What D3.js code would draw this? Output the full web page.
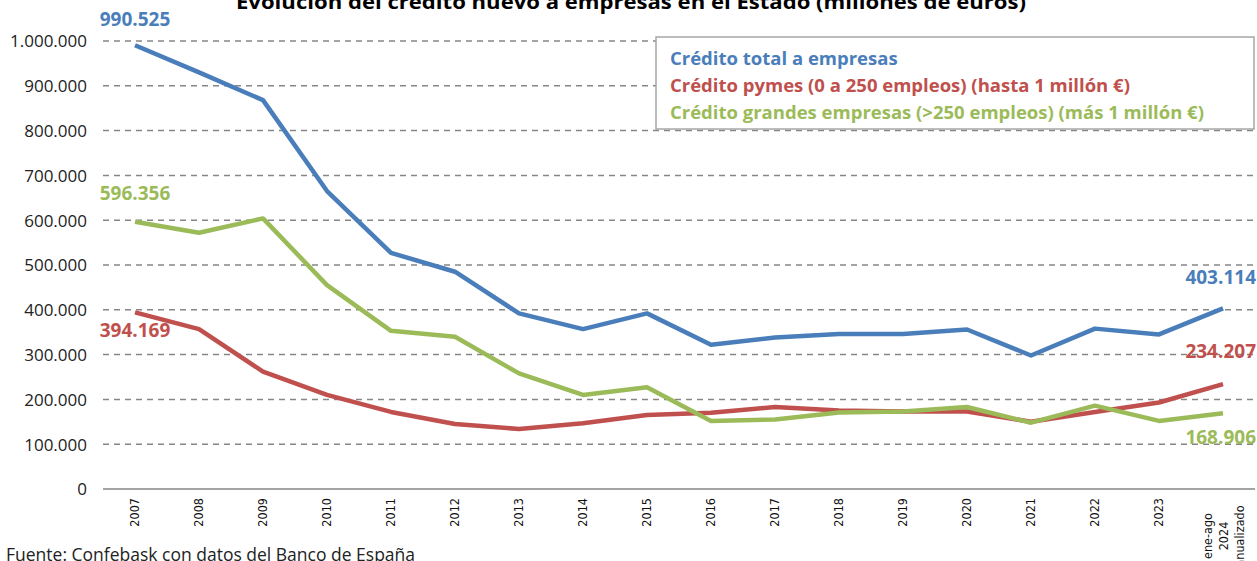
<!DOCTYPE html>
<html>
<head>
<meta charset="utf-8">
<script src="https://cdn.jsdelivr.net/npm/d3@7"></script>
<style>
  body { margin: 0; background: #fff; }
  svg text { font-family: "Open Sans", "Noto Sans", sans-serif; }
</style>
</head>
<body>
<div id="chart"></div>
<script>
var years = ["2007","2008","2009","2010","2011","2012","2013","2014","2015","2016","2017","2018","2019","2020","2021","2022","2023","2024"];
var yearLabels = ["2007","2008","2009","2010","2011","2012","2013","2014","2015","2016","2017","2018","2019","2020","2021","2022","2023",["ene-ago","2024","anualizado"]];

var total   = [990525, 930000, 868000, 665000, 527000, 485000, 392000, 357000, 392000, 322000, 338000, 346000, 346000, 356000, 298000, 358000, 345000, 403114];
var pymes   = [394169, 357000, 262000, 210000, 172000, 145000, 134000, 147000, 165000, 170000, 183000, 175000, 173000, 173000, 150000, 172000, 193000, 234207];
var grandes = [596356, 572000, 604000, 455000, 353000, 340000, 258000, 210000, 227000, 152000, 155000, 171000, 173000, 183000, 148000, 186000, 152000, 168906];

var yTicks = [0, 100000, 200000, 300000, 400000, 500000, 600000, 700000, 800000, 900000, 1000000];

var seriesNames = ["Crédito total a empresas", "Crédito pymes (0 a 250 empleos) (hasta 1 millón €)", "Crédito grandes empresas (>250 empleos) (más 1 millón €)"];
var colors = ["#4a7ebb", "#c0504d", "#9bbb59"];

(function() {
    var W = 1257, H = 561;
    var left = 103, right = 1255, top = 41, bottom = 489;

    var svg = d3.select("#chart").append("svg")
        .attr("width", W)
        .attr("height", H);

    var x = d3.scaleBand().domain(years).range([left, right]);
    var y = d3.scaleLinear().domain([0, 1000000]).range([bottom, top]);

    var fmt = function(v) {
        return v === 0 ? "0" : d3.format(",")(v).replace(/,/g, ".");
    };

    // title (cut off at top, like the original)
    svg.append("text")
        .attr("x", 631).attr("y", 9)
        .attr("text-anchor", "middle")
        .style("font-size", "19px").style("font-weight", "bold")
        .attr("textLength", 790).attr("lengthAdjust", "spacingAndGlyphs")
        .text("Evolución del crédito nuevo a empresas en el Estado (millones de euros)");

    // gridlines
    svg.append("g").selectAll("line")
        .data(yTicks.filter(function(d) { return d > 0; }))
        .enter().append("line")
        .attr("x1", left).attr("x2", right)
        .attr("y1", function(d) { return y(d); })
        .attr("y2", function(d) { return y(d); })
        .attr("stroke", "#868686")
        .attr("stroke-width", 1.5)
        .attr("stroke-dasharray", "6,5");

    // y axis labels
    var yAxis = d3.axisLeft(y).tickValues(yTicks).tickFormat(fmt).tickSize(0).tickPadding(16);
    var gy = svg.append("g").attr("transform", "translate(" + left + ",0)").call(yAxis);
    gy.select(".domain").remove();
    gy.selectAll("text")
        .style("font-size", "17px").style("fill", "#222")
        .style("font-family", "'Open Sans', sans-serif")
        .attr("dy", "0.35em");

    // x axis
    svg.append("line")
        .attr("x1", left).attr("x2", right)
        .attr("y1", bottom).attr("y2", bottom)
        .attr("stroke", "#868686").attr("stroke-width", 1.5);

    var xl = svg.append("g").selectAll("text")
        .data(years)
        .enter().append("text")
        .attr("transform", function(d) {
            return "translate(" + (x(d) + x.bandwidth() / 2) + "," + (bottom + 9) + ") rotate(-90)";
        })
        .attr("text-anchor", "end")
        .style("font-size", "12.5px").style("fill", "#111")
        .style("font-family", "'DejaVu Sans', sans-serif")
        .style("font-stretch", "condensed");

    xl.each(function(d, i) {
        var lab = yearLabels[i];
        var t = d3.select(this);
        if (typeof lab === "string") {
            t.attr("dy", "0.35em").text(lab);
        } else {
            lab.forEach(function(s, k) {
                t.append("tspan")
                    .attr("x", 0)
                    .attr("dy", k === 0 ? "-0.85em" : "1.25em")
                    .attr("text-anchor", "middle")
                    .text(s);
            });
        }
    });
    // the multi-line label is centred along its rotated axis
    xl.filter(function(d, i) { return typeof yearLabels[i] !== "string"; })
        .attr("text-anchor", "middle")
        .attr("transform", function(d) {
            return "translate(" + (x(d) + x.bandwidth() / 2) + "," + (bottom + 47) + ") rotate(-90)";
        });

    // lines
    var allSeries = [total, pymes, grandes];
    var line = d3.line()
        .x(function(d, i) { return x(years[i]) + x.bandwidth() / 2; })
        .y(function(d) { return y(d); });

    svg.append("g").selectAll("path")
        .data(allSeries)
        .enter().append("path")
        .attr("d", line)
        .attr("fill", "none")
        .attr("stroke", function(d, i) { return colors[i]; })
        .attr("stroke-width", 4.5)
        .attr("stroke-linejoin", "round");

    // value labels at the ends
    var endLabels = [
        { s: 0, i: 0, dx: 0, dy: -19, anchor: "middle" },
        { s: 1, i: 0, dx: 0, dy: 25, anchor: "middle" },
        { s: 2, i: 0, dx: 0, dy: -22, anchor: "middle" },
        { s: 0, i: 17, dx: 33, dy: -24, anchor: "end" },
        { s: 1, i: 17, dx: 33, dy: -26, anchor: "end" },
        { s: 2, i: 17, dx: 33, dy: 31, anchor: "end" }
    ];
    svg.append("g").selectAll("text")
        .data(endLabels)
        .enter().append("text")
        .attr("x", function(d) { return x(years[d.i]) + x.bandwidth() / 2 + d.dx; })
        .attr("y", function(d) { return y(allSeries[d.s][d.i]) + d.dy; })
        .attr("text-anchor", function(d) { return d.anchor; })
        .style("font-size", "19px").style("font-weight", "bold")
        .style("fill", function(d) { return colors[d.s]; })
        .text(function(d) { return fmt(allSeries[d.s][d.i]); });

    // legend
    var lg = svg.append("g").attr("transform", "translate(656,37)");
    lg.append("rect")
        .attr("width", 598).attr("height", 92)
        .attr("fill", "#fff")
        .attr("stroke", "#a6a6a6").attr("stroke-width", 1.5);
    lg.selectAll("text")
        .data(seriesNames)
        .enter().append("text")
        .attr("x", 14)
        .attr("y", function(d, i) { return 28 + i * 27; })
        .style("font-size", "18.5px").style("font-weight", "bold")
        .style("fill", function(d, i) { return colors[i]; })
        .text(function(d) { return d; });

    // source
    svg.append("text")
        .attr("x", 6).attr("y", 561)
        .style("font-size", "17.5px").style("fill", "#222")
        .text("Fuente: Confebask con datos del Banco de España");

})();
</script>
</body>
</html>
